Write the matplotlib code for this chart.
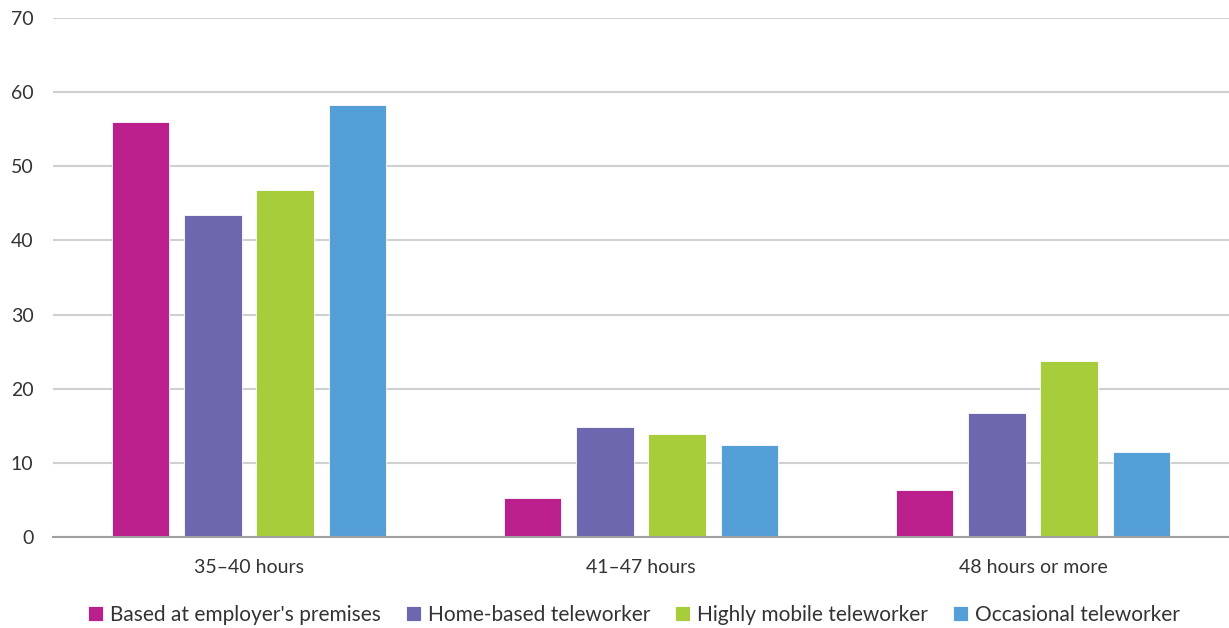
import matplotlib.pyplot as plt
import numpy as np

plt.rcParams['font.family'] = ['Lato', 'DejaVu Sans']

categories = ['35–40 hours', '41–47 hours', '48 hours or more']
series = ["Based at employer's premises", 'Home-based teleworker',
          'Highly mobile teleworker', 'Occasional teleworker']
values = [
    [56.0, 5.3, 6.3],
    [43.4, 14.8, 16.7],
    [46.8, 13.9, 23.7],
    [58.3, 12.4, 11.5],
]
colors = ['#BA1F8C', '#6D67AF', '#A8CD3A', '#549FD8']

fig = plt.figure(figsize=(12.29, 6.28), dpi=100)
ax = fig.add_axes([53/1229, 1-537/628, 1-53/1229, (537-18)/628])

x = np.arange(len(categories))
width = 0.146
step = 0.184
for i, (name, vals) in enumerate(zip(series, values)):
    ax.bar(x + (i - 1.5) * step, vals, width, color=colors[i], label=name,
           edgecolor='white', linewidth=0.6, zorder=3)

ax.set_xlim(-0.5, 2.5)
ax.set_ylim(0, 70)
ax.set_yticks(range(0, 71, 10))
ax.set_xticks(x)
ax.set_xticklabels(categories)
ax.yaxis.grid(True, color='#d0d0d0', linewidth=1.5, zorder=0)
ax.tick_params(axis='both', length=0, labelsize=14, colors='#333333')
ax.tick_params(axis='x', pad=16)
ax.tick_params(axis='y', pad=14)
for s in ['top', 'right', 'left']:
    ax.spines[s].set_visible(False)
ax.spines['bottom'].set_color('#a0a0a0')
ax.spines['bottom'].set_linewidth(1.5)
ax.spines['bottom'].set_zorder(4)

fig.legend(*ax.get_legend_handles_labels(), loc='center',
           bbox_to_anchor=(634/1229, 1-615/628),
           ncol=4, frameon=False, fontsize=15, handlelength=0.7, handleheight=0.7,
           handletextpad=0.35, columnspacing=1.2, labelcolor='#333333',
           borderpad=0, borderaxespad=0)

fig.savefig('out.png', dpi=100)
